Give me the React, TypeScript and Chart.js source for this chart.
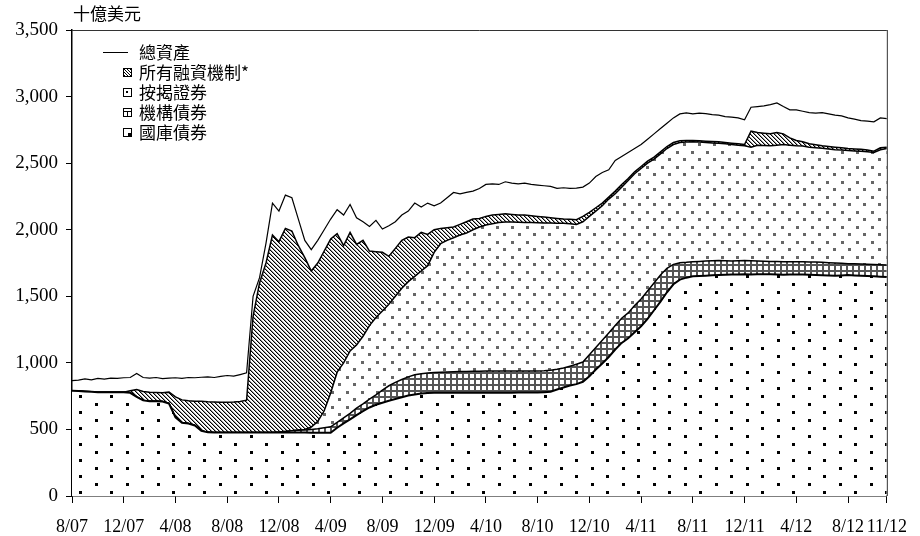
import React, { useEffect, useRef } from 'react';
import { Chart, registerables } from 'chart.js';

Chart.register(...registerables);

// ---- data (billions of US$), half-month steps from Aug 2007 to Nov 2012 ----
const unitLabel = '十億美元';
const seriesLabels = ['國庫債券', '機構債券', '按揭證券', '所有融資機制*', '總資產'];
const xTickMonths = [0, 4, 8, 12, 16, 20, 24, 28, 32, 36, 40, 44, 48, 52, 56, 60, 63];
const xTickLabels = ['8/07', '12/07', '4/08', '8/08', '12/08', '4/09', '8/09', '12/09', '4/10', '8/10', '12/10', '4/11', '8/11', '12/11', '4/12', '8/12', '11/12'];

const treasury = [
  790, 788, 785, 783, 780, 780, 780, 780, 780,
  775, 745, 718, 712, 711, 710, 695, 590, 550, 545, 530, 490,
  478, 477, 477, 477, 477, 477, 477, 477, 477, 477, 477,
  477, 477, 476, 476, 476, 475, 475, 475, 475,
  513, 545, 575, 608, 637, 665, 685, 700, 715, 728,
  742, 755, 763, 770, 773, 775, 775, 775, 775, 775,
  775, 776, 776, 776, 776, 776, 776, 776, 777, 777,
  777, 777, 780, 783, 800, 815, 830, 840, 858, 900,
  950, 995, 1044, 1100, 1150, 1185, 1230, 1275, 1330, 1395,
  1460, 1530, 1590, 1625, 1640, 1650, 1652, 1655, 1658, 1660,
  1662, 1663, 1664, 1665, 1664, 1665, 1666, 1665, 1663, 1662,
  1663, 1664, 1663, 1662, 1660, 1658, 1656, 1655, 1657, 1660,
  1657, 1655, 1652, 1650, 1647, 1645,
];

const agency = [
  0, 0, 0, 0, 0, 0, 0, 0, 0, 0, 0, 0, 0, 0, 0, 0,
  0, 0, 0, 0, 0, 0, 0, 0, 0, 0, 0, 0, 0, 0, 0, 0,
  3, 8, 14, 17, 20, 25, 30, 37, 45,
  40, 42, 45, 52, 55, 62, 75, 95, 113, 125,
  133, 140, 147, 148, 151, 153, 155, 157, 158, 160,
  161, 161, 161, 162, 162, 162, 162, 162, 161, 161,
  161, 162, 160, 162, 152, 146, 145, 150, 148, 160,
  165, 175, 180, 180, 185, 190, 200, 205, 210, 205,
  200, 180, 150, 127, 115, 110, 110, 110, 108, 108,
  105, 102, 102, 103, 103, 100, 98, 97, 98, 98,
  97, 96, 96, 96, 97, 97, 96, 95, 91, 85,
  87, 87, 88, 88, 89, 90,
];

const mbs = [
  0, 0, 0, 0, 0, 0, 0, 0, 0, 0, 0, 0, 0, 0, 0, 0, 0, 0,
  0, 0, 0, 0, 0, 0, 0, 0, 0, 0, 0, 0, 0, 0, 0, 0, 0,
  2, 4, 18, 55, 128, 254,
  377, 413, 470, 475, 508, 553, 580, 595, 612, 647,
  685, 715, 740, 772, 806, 902, 965, 988, 1007, 1025,
  1039, 1063, 1083, 1097, 1107, 1117, 1120, 1120, 1118, 1117,
  1116, 1113, 1111, 1105, 1097, 1087, 1070, 1050, 1054, 1040,
  1025, 1010, 1006, 990, 985, 995, 990, 980, 960, 930,
  910, 900, 900, 903, 903, 900, 896, 890, 886, 882,
  878, 875, 869, 862, 853, 870, 868, 868, 874, 880,
  875, 870, 869, 862, 859, 857, 854, 850, 850, 850,
  848, 848, 845, 842, 864, 875,
];

const lending = [
  0, 0, 0, 0, 0, 0, 0, 0, 0,
  15, 55, 67, 68, 67, 65, 85, 155, 172, 170, 182, 222,
  230, 229, 228, 228, 229, 233, 243, 873, 1123, 1273, 1483,
  1430, 1525, 1500, 1385, 1290, 1172, 1190, 1200, 1156,
  1040, 880, 890, 755, 720, 560, 495, 440, 360, 360,
  360, 335, 290, 290, 235, 170, 115, 95, 80, 80,
  85, 80, 65, 65, 65, 60, 62, 57, 54, 55,
  51, 48, 44, 40, 36, 32, 33, 35, 40, 30,
  25, 20, 15, 20, 20, 15, 15, 15, 15, 15,
  15, 15, 15, 13, 12, 10, 10, 10, 10, 10,
  10, 10, 10, 10, 120, 95, 93, 90, 95, 80,
  55, 40, 32, 25, 22, 18, 19, 20, 17, 15,
  15, 15, 13, 10, 15, 10,
];

const totalAssets = [
  866, 870, 879, 872, 884, 878, 886, 884, 888,
  890, 920, 890, 885, 890, 882, 886, 888, 884, 890, 888, 892,
  895, 890, 898, 905, 900, 912, 925, 1500, 1640, 1900, 2200,
  2140, 2260, 2240, 2080, 1920, 1850, 1920, 2000, 2080,
  2150, 2110, 2190, 2090, 2060, 2025, 2070, 2005, 2030, 2060,
  2110, 2140, 2200, 2170, 2200, 2180, 2200, 2240, 2280, 2270,
  2280, 2290, 2310, 2340, 2345, 2340, 2360, 2350, 2345, 2350,
  2340, 2335, 2330, 2325, 2310, 2315, 2310, 2312, 2320, 2350,
  2400, 2430, 2450, 2520, 2550, 2580, 2610, 2640, 2680, 2720,
  2760, 2800, 2840, 2870, 2878, 2870, 2875, 2872, 2865, 2860,
  2850, 2845, 2840, 2825, 2920, 2925, 2930, 2940, 2952, 2925,
  2900, 2900, 2890, 2880, 2875, 2880, 2870, 2860, 2855, 2840,
  2830, 2820, 2815, 2810, 2840, 2835,
];

const CJK = '"Noto Sans CJK TC", "Noto Sans CJK SC", sans-serif';
const SERIF = '"Liberation Serif", "DejaVu Serif", serif';

function tile(w: number, h: number, draw: (g: CanvasRenderingContext2D) => void, ctx: CanvasRenderingContext2D) {
  const c = document.createElement('canvas');
  c.width = w;
  c.height = h;
  const g = c.getContext('2d') as CanvasRenderingContext2D;
  g.fillStyle = '#ffffff';
  g.fillRect(0, 0, w, h);
  draw(g);
  return ctx.createPattern(c, 'repeat') as CanvasPattern;
}

const frameAndLegend = {
  id: 'frameAndLegend',
  afterDraw(chart: any) {
    const { ctx, chartArea } = chart;
    const { left, right, top, bottom } = chartArea;
    ctx.save();
    // frame top & right
    ctx.strokeStyle = '#333';
    ctx.lineWidth = 1;
    ctx.beginPath();
    ctx.moveTo(left, top + 0.5);
    ctx.lineTo(right, top + 0.5);
    ctx.moveTo(right + 0.5, top);
    ctx.lineTo(right + 0.5, bottom);
    ctx.stroke();

    // unit title
    ctx.fillStyle = '#000';
    ctx.font = `17px ${CJK}`;
    ctx.textAlign = 'left';
    ctx.textBaseline = 'middle';
    ctx.fillText(unitLabel, 73, 14);

    // legend
    const textX = 139;
    const rows = [52, 72, 92, 112, 132];
    ctx.strokeStyle = '#000';
    ctx.lineWidth = 1;
    ctx.beginPath();
    ctx.moveTo(103, rows[0] + 0.5);
    ctx.lineTo(128, rows[0] + 0.5);
    ctx.stroke();
    ctx.fillText(seriesLabels[4], textX, rows[0] + 1);

    const bx = 123;
    const box = (cy: number) => {
      const by = cy - 4;
      ctx.strokeStyle = '#000';
      ctx.lineWidth = 1;
      ctx.strokeRect(bx + 0.5, by + 0.5, 8, 8);
      return by;
    };
    // lending
    let by = box(rows[1]);
    ctx.save();
    ctx.beginPath();
    ctx.rect(bx + 1, by + 1, 7, 7);
    ctx.clip();
    ctx.beginPath();
    for (let k = -6; k <= 6; k += 3) {
      ctx.moveTo(bx + k, by);
      ctx.lineTo(bx + k + 9, by + 9);
    }
    ctx.stroke();
    ctx.restore();
    ctx.fillText(seriesLabels[3], textX, rows[1] + 1);
    // mbs
    by = box(rows[2]);
    ctx.fillStyle = '#000';
    ctx.fillRect(bx + 3, by + 3, 2, 2);
    ctx.fillText(seriesLabels[2], textX, rows[2] + 1);
    // agency
    by = box(rows[3]);
    ctx.beginPath();
    ctx.moveTo(bx + 1, by + 3.5);
    ctx.lineTo(bx + 8, by + 3.5);
    ctx.moveTo(bx + 4.5, by + 3);
    ctx.lineTo(bx + 4.5, by + 8);
    ctx.stroke();
    ctx.fillText(seriesLabels[1], textX, rows[3] + 1);
    // treasury
    by = box(rows[4]);
    ctx.fillRect(bx + 5, by + 5, 3, 3);
    ctx.fillText(seriesLabels[0], textX, rows[4] + 1);
    ctx.restore();
  },
};

export default function App() {
  const ref = useRef<HTMLCanvasElement | null>(null);

  useEffect(() => {
    const canvas = ref.current;
    if (!canvas) return;
    const ctx = canvas.getContext('2d') as CanvasRenderingContext2D;

    const patTreasury = tile(31, 16, (g) => {
      g.fillStyle = '#000';
      g.fillRect(2, 3, 3, 3);
      g.fillRect(17, 11, 3, 3);
    }, ctx);
    const patMbs = tile(15, 15, (g) => {
      g.fillStyle = '#666';
      g.fillRect(1, 1, 3, 3);
      g.fillRect(8, 8, 3, 3);
    }, ctx);
    const patAgency = tile(6, 6, (g) => {
      g.fillStyle = '#555';
      g.fillRect(0, 0, 6, 2);
      g.fillRect(0, 0, 2, 6);
    }, ctx);
    const patLending = tile(4, 4, (g) => {
      for (let k = 0; k < 4; k++) {
        g.fillStyle = '#000';
        g.fillRect(k, k, 1, 1);
        g.fillStyle = '#9a9a9a';
        g.fillRect((k + 1) % 4, k, 1, 1);
      }
    }, ctx);

    const months = treasury.map((_, i) => i / 2);

    const chart = new Chart(canvas, {
      type: 'line',
      data: {
        labels: months,
        datasets: [
          { label: seriesLabels[0], data: treasury, stack: 'a', fill: 'origin', backgroundColor: patTreasury, borderColor: '#000', borderWidth: 2 },
          { label: seriesLabels[1], data: agency, stack: 'a', fill: '-1', backgroundColor: patAgency, borderColor: '#000', borderWidth: 1.5 },
          { label: seriesLabels[2], data: mbs, stack: 'a', fill: '-1', backgroundColor: patMbs, borderColor: '#000', borderWidth: 1.5 },
          { label: seriesLabels[3], data: lending, stack: 'a', fill: '-1', backgroundColor: patLending, borderColor: '#000', borderWidth: 1.5 },
          { label: seriesLabels[4], data: totalAssets, stack: 'b', fill: false, borderColor: '#000', borderWidth: 1.2 },
        ] as any,
      },
      options: {
        animation: false,
        responsive: false,
        maintainAspectRatio: false,
        layout: { padding: { top: 30, right: 27, left: 0, bottom: 0 } },
        elements: { point: { radius: 0 }, line: { tension: 0 } },
        plugins: { legend: { display: false }, tooltip: { enabled: false } },
        scales: {
          x: {
            type: 'linear',
            min: 0,
            max: 63,
            afterBuildTicks: (s: any) => {
              s.ticks = xTickMonths.map((v) => ({ value: v }));
            },
            afterFit: (s: any) => {
              s.height = 40;
            },
            ticks: {
              autoSkip: false,
              maxRotation: 0,
              color: '#000',
              padding: 13,
              font: { family: SERIF, size: 18 },
              callback: (v: any) => xTickLabels[xTickMonths.indexOf(Number(v))] ?? '',
            },
            grid: { drawOnChartArea: false, drawTicks: true, tickLength: 7, color: '#000', lineWidth: 1 },
            border: { display: true, color: '#000', width: 1.5 },
          },
          y: {
            stacked: true,
            min: 0,
            max: 3500,
            afterFit: (s: any) => {
              s.width = 72;
            },
            ticks: {
              stepSize: 500,
              color: '#000',
              padding: 8,
              font: { family: SERIF, size: 19 },
              callback: (v: any) => Number(v).toLocaleString('en-US'),
            },
            grid: { drawOnChartArea: false, drawTicks: true, tickLength: 6, color: '#000', lineWidth: 1 },
            border: { display: true, color: '#000', width: 1.5 },
          },
        },
      } as any,
      plugins: [frameAndLegend],
    });

    return () => chart.destroy();
  }, []);

  return (
    <div style={{ position: 'absolute', left: 0, top: 0, width: 920, height: 536, background: '#fff' }}>
      <canvas ref={ref} width={920} height={536} style={{ display: 'block', width: 920, height: 536 }} />
    </div>
  );
}
